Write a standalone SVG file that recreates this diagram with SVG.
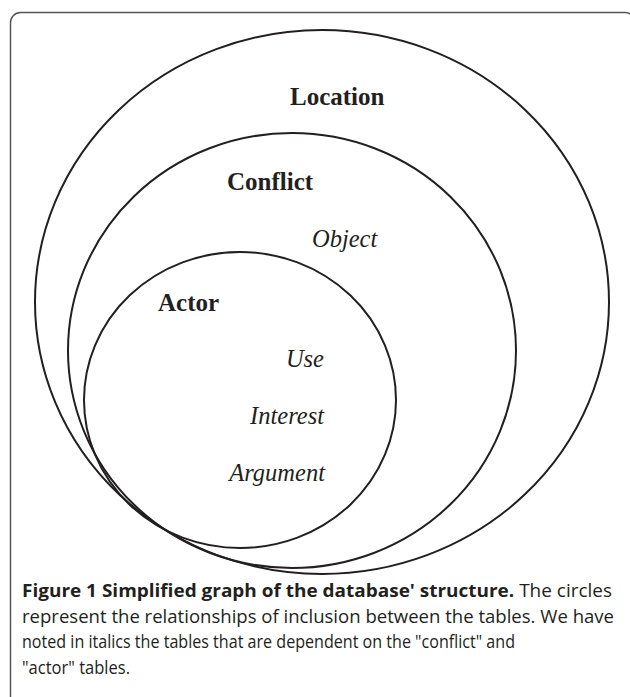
<svg xmlns="http://www.w3.org/2000/svg" width="630" height="697" viewBox="0 0 630 697">
<style>
.ring{fill:none;stroke:#231f20;stroke-width:2}
.lbl{font-family:"Liberation Serif",serif;font-size:25px;font-weight:bold;fill:#231f20}
.it{font-family:"Liberation Serif",serif;font-size:24.5px;font-style:italic;fill:#231f20}
.cap{font-family:"Open Sans","Noto Sans",sans-serif;font-size:18px;fill:#231f20}
.capb{font-weight:bold}
</style>
<rect width="630" height="697" fill="#ffffff"/>
<path d="M10.5 697 V22.5 A10 10 0 0 1 20.5 12.5 H625 A10 10 0 0 1 635 22.5" fill="none" stroke="#555555" stroke-width="1.5"/>
<g id="location">
<ellipse class="ring" cx="322" cy="302" rx="287" ry="272"/>
<text class="lbl" x="290" y="105">Location</text>
</g>
<g id="conflict">
<ellipse class="ring" cx="292" cy="350.5" rx="224" ry="217.5"/>
<text class="lbl" x="227" y="190">Conflict</text>
<text class="it" x="312" y="247">Object</text>
</g>
<g id="actor">
<ellipse class="ring" cx="240" cy="400" rx="156" ry="148"/>
<text class="lbl" x="158" y="311">Actor</text>
<text class="it" x="324" y="367" text-anchor="end">Use</text>
<text class="it" x="324" y="424" text-anchor="end">Interest</text>
<text class="it" x="325" y="481" text-anchor="end">Argument</text>
</g>
<g id="connectors"></g>
<g id="caption">
<text class="cap" x="22" y="597" textLength="590" lengthAdjust="spacingAndGlyphs"><tspan class="capb">Figure 1 Simplified graph of the database' structure.</tspan> The circles</text>
<text class="cap" x="22" y="623" textLength="592" lengthAdjust="spacingAndGlyphs">represent the relationships of inclusion between the tables. We have</text>
<text class="cap" x="22" y="648" textLength="493" lengthAdjust="spacingAndGlyphs">noted in italics the tables that are dependent on the "conflict" and</text>
<text class="cap" x="22" y="674" textLength="108" lengthAdjust="spacingAndGlyphs">"actor" tables.</text>
</g>
</svg>
